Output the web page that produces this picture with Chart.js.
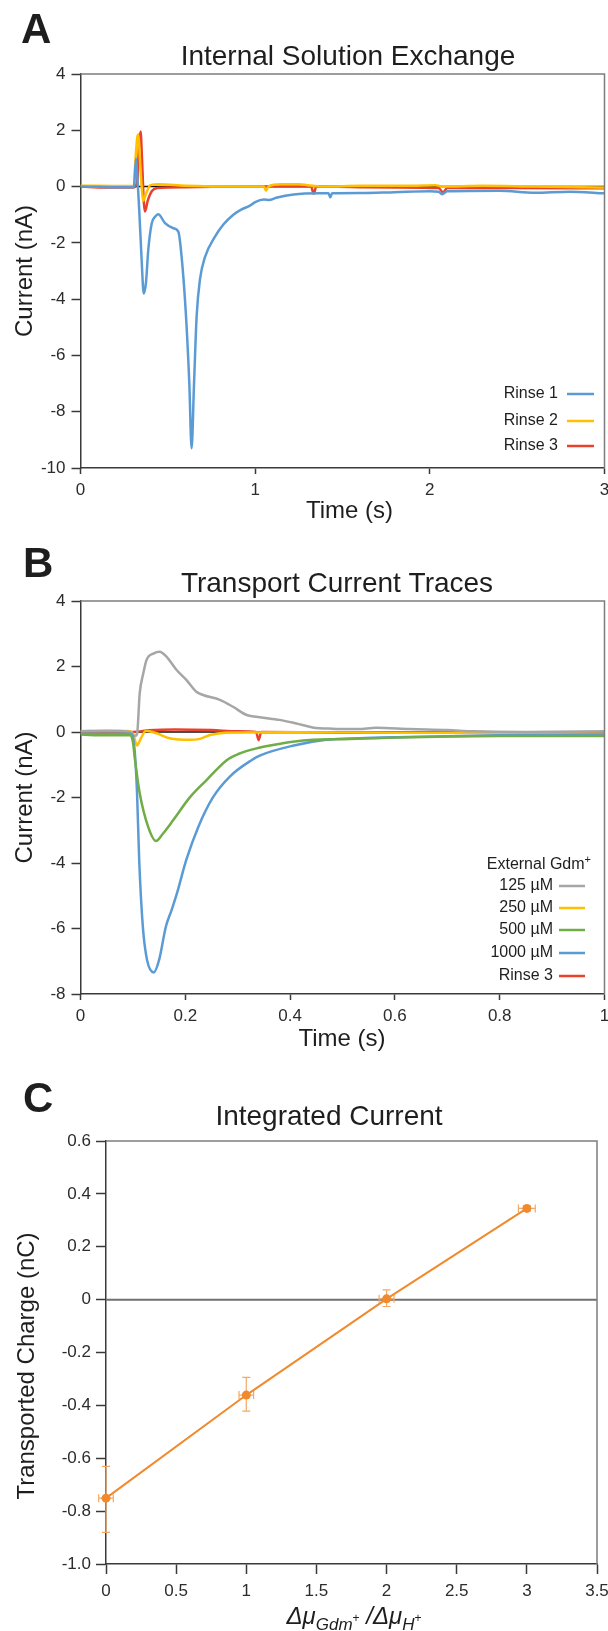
<!DOCTYPE html>
<html>
<head>
<meta charset="utf-8">
<script src="https://cdn.jsdelivr.net/npm/chart.js@4.4.1/dist/chart.umd.min.js"></script>
<style>
  html, body { margin: 0; padding: 0; background: #fff; }
  #wrap { position: relative; width: 608px; height: 1631px; overflow: hidden; }
  canvas { position: absolute; left: 0; }
</style>
</head>
<body>
<div id="wrap">
  <canvas id="chA" width="608" height="530" style="top:0px"></canvas>
  <canvas id="chB" width="608" height="540" style="top:530px"></canvas>
  <canvas id="chC" width="608" height="561" style="top:1070px"></canvas>
</div>
<script>
// ---- panel A: internal solution exchange (time in s, current in nA)
const aRinse1T = [0, 0.1, 0.2, 0.3, 0.306, 0.318, 0.326, 0.336, 0.35, 0.362, 0.375, 0.388, 0.408, 0.427, 0.445, 0.484, 0.532, 0.56, 0.579, 0.604, 0.623, 0.636, 0.65, 0.665, 0.684, 0.713, 0.77, 0.818, 0.875, 0.92, 0.97, 1.0, 1.05, 1.08, 1.12, 1.22, 1.37, 1.42, 1.43, 1.44, 1.6, 1.8, 2.0, 2.05, 2.07, 2.1, 2.4, 2.6, 2.8, 3.0];
const aRinse1I = [0, -0.01, -0.02, -0.02, 0.0, 1.0, 0.3, -0.8, -2.6, -3.8, -3.4, -2.25, -1.3, -1.07, -0.98, -1.3, -1.48, -1.6, -2.5, -4.6, -7.0, -9.3, -7.0, -4.6, -3.3, -2.5, -1.78, -1.35, -1.0, -0.82, -0.68, -0.55, -0.46, -0.48, -0.4, -0.28, -0.24, -0.24, -0.38, -0.24, -0.23, -0.2, -0.17, -0.18, -0.27, -0.17, -0.15, -0.22, -0.18, -0.24];
const aRinse2T = [0, 0.2, 0.305, 0.315, 0.325, 0.332, 0.34, 0.35, 0.36, 0.375, 0.4, 0.45, 0.6, 0.9, 1.05, 1.062, 1.075, 1.15, 1.25, 1.3, 1.4, 1.6, 1.9, 2.03, 2.08, 2.3, 2.6, 3.0];
const aRinse2I = [0.03, 0.02, 0.02, 1.0, 1.75, 1.85, 1.0, 0.0, -0.5, -0.25, 0.05, 0.08, 0.03, 0.0, 0.0, -0.15, 0.0, 0.08, 0.08, 0.05, 0.0, 0.03, 0.03, 0.05, 0.0, 0.03, 0.0, -0.03];
const aRinse3T = [0, 0.15, 0.3, 0.325, 0.335, 0.344, 0.352, 0.362, 0.369, 0.385, 0.41, 0.44, 0.6, 1.0, 1.32, 1.335, 1.35, 1.6, 2.05, 2.075, 2.1, 2.5, 3.0];
const aRinse3I = [0, -0.03, -0.03, 0.2, 1.5, 1.96, 1.0, -0.5, -0.89, -0.5, -0.15, -0.05, -0.02, 0, 0, -0.25, 0, -0.02, -0.05, -0.2, -0.05, -0.05, -0.06];
const aBaseT = [0, 3];
const aBaseI = [0, 0];

// ---- panel B: transport current traces
const b125T = [0, 0.05, 0.095, 0.104, 0.108, 0.113, 0.12, 0.126, 0.14, 0.151, 0.164, 0.183, 0.202, 0.221, 0.234, 0.266, 0.291, 0.317, 0.342, 0.38, 0.412, 0.443, 0.48, 0.53, 0.564, 0.628, 0.7, 0.75, 0.85, 1.0];
const b125I = [0.02, 0.04, 0.0, -0.12, -0.05, 1.18, 1.8, 2.2, 2.4, 2.45, 2.3, 1.9, 1.59, 1.23, 1.13, 0.98, 0.77, 0.52, 0.45, 0.37, 0.26, 0.14, 0.1, 0.09, 0.13, 0.09, 0.06, 0.02, 0.0, 0.02];
const b250T = [0, 0.09, 0.1, 0.108, 0.115, 0.125, 0.145, 0.17, 0.209, 0.228, 0.247, 0.278, 0.4, 0.6, 0.8, 1.0];
const b250I = [0.03, 0.03, -0.05, -0.41, -0.2, 0.04, -0.04, -0.19, -0.24, -0.21, -0.09, -0.02, -0.01, -0.02, -0.03, -0.05];
const b500T = [0, 0.05, 0.095, 0.1, 0.104, 0.113, 0.129, 0.144, 0.158, 0.177, 0.209, 0.241, 0.279, 0.3, 0.336, 0.367, 0.405, 0.444, 0.5, 0.564, 0.628, 0.8, 1.0];
const b500I = [-0.08, -0.1, -0.1, -0.3, -0.85, -1.87, -2.89, -3.33, -3.09, -2.69, -1.99, -1.46, -0.86, -0.68, -0.5, -0.4, -0.3, -0.24, -0.22, -0.19, -0.16, -0.12, -0.12];
const b1000T = [0, 0.095, 0.1, 0.104, 0.108, 0.112, 0.119, 0.127, 0.14, 0.15, 0.163, 0.174, 0.184, 0.202, 0.225, 0.253, 0.285, 0.327, 0.342, 0.405, 0.469, 0.532, 0.6, 0.8, 1.0];
const b1000I = [-0.05, -0.05, -0.15, -0.7, -1.9, -3.9, -5.95, -6.96, -7.34, -6.96, -5.94, -5.43, -4.93, -3.9, -2.89, -1.99, -1.36, -0.855, -0.72, -0.42, -0.24, -0.19, -0.16, -0.1, -0.08];
const bRinse3T = [0, 0.1, 0.13, 0.18, 0.25, 0.3, 0.335, 0.34, 0.345, 0.5, 0.7, 1.0];
const bRinse3I = [-0.02, 0.0, 0.05, 0.08, 0.06, 0.02, 0.0, -0.25, 0.0, -0.02, -0.02, -0.05];
const bBaseT = [0, 1];
const bBaseI = [0, 0];

// ---- panel C: integrated current
const cRatio = [0, 1, 2, 3];
const cRatioErr = [0.052, 0.052, 0.053, 0.06];
const cCharge = [-0.751, -0.361, 0.003, 0.345];
const cChargeErrUp = [0.12, 0.067, 0.034, 0.01];
const cChargeErrDn = [0.129, 0.061, 0.029, 0.01];

const FONT = "'Liberation Sans', Arial, Helvetica, sans-serif";
const INK = '#1e1e1e';
const AXIS = '#3a3a3a';
const FRAME = '#7d7d7d';
const BLUE = '#5b9bd5', GOLD = '#ffc000', RED = '#e8412c', GREY = '#a6a6a6', GREEN = '#70ad47';
const ORANGE = '#f08a2c', ORANGE_ERR = '#f4a865';

function trace(label, xs, ys, color, rank, width){
  return {
    label, legendRank: rank,
    data: xs.map((x, i) => ({ x, y: ys[i] })),
    borderColor: color, backgroundColor: color,
    borderWidth: width || 2.5, pointRadius: 0,
    cubicInterpolationMode: 'monotone', fill: false
  };
}

function axes(o){
  const tf = { family: FONT, size: 17 };
  return {
    x: {
      type: 'linear', min: o.xMin, max: o.xMax,
      ticks: { stepSize: o.xStep, color: '#2c2c2c', font: tf, padding: o.xPad, maxRotation: 0, autoSkip: false, callback: o.xFmt },
      grid: { drawOnChartArea: false, tickLength: o.xTick, tickColor: AXIS, tickWidth: 1.5 },
      border: { color: AXIS, width: 1.5 },
      afterFit: s => { s.height = 40; s.paddingLeft = 0; s.paddingRight = 0; }
    },
    y: {
      type: 'linear', min: o.yMin, max: o.yMax,
      ticks: { stepSize: o.yStep, color: '#2c2c2c', font: tf, padding: o.yPad, autoSkip: false, callback: o.yFmt },
      grid: { drawOnChartArea: false, tickLength: o.yTick, tickColor: AXIS, tickWidth: 1.5 },
      border: { color: AXIS, width: 1.5 },
      afterFit: s => { s.width = o.yWidth; s.paddingTop = 0; s.paddingBottom = 0; }
    }
  };
}

const plain = v => String(Math.round(v * 10) / 10);

// letters, titles, frame, legend
const decor = {
  id: 'decor',
  beforeDatasetsDraw(chart, args, o){
    if (!o.zeroLine) return;
    const { ctx, chartArea: a } = chart;
    const y0 = chart.scales.y.getPixelForValue(0);
    ctx.save();
    ctx.strokeStyle = '#707070'; ctx.lineWidth = 2;
    ctx.beginPath(); ctx.moveTo(a.left, y0); ctx.lineTo(a.right, y0); ctx.stroke();
    ctx.restore();
  },
  afterDraw(chart, args, o){
    const { ctx, chartArea: a } = chart;
    ctx.save();
    ctx.strokeStyle = FRAME; ctx.lineWidth = 1.5;
    ctx.beginPath(); ctx.moveTo(a.left, a.top); ctx.lineTo(a.right, a.top); ctx.lineTo(a.right, a.bottom); ctx.stroke();

    ctx.fillStyle = INK; ctx.textBaseline = 'alphabetic';
    ctx.font = 'bold 42px ' + FONT; ctx.textAlign = 'left';
    ctx.fillText(o.letter, o.letterX, o.letterY);

    ctx.font = '28px ' + FONT; ctx.textAlign = 'center';
    ctx.fillText(o.title, o.titleX, o.titleY);

    ctx.save();
    ctx.translate(o.yTitleX, o.yTitleY); ctx.rotate(-Math.PI / 2);
    ctx.font = '24px ' + FONT; ctx.fillText(o.yTitle, 0, 0);
    ctx.restore();

    if (o.xTitle) { ctx.font = '24px ' + FONT; ctx.fillText(o.xTitle, o.xTitleX, o.xTitleY); }
    if (o.xTitleFn) o.xTitleFn(ctx);

    const L = o.legend;
    if (L) {
      ctx.textBaseline = 'middle';
      if (L.title) {
        ctx.font = '11px ' + FONT;
        const w = ctx.measureText('+').width;
        ctx.textAlign = 'left'; ctx.fillText('+', L.titleRight - w, L.titleY - 5);
        ctx.font = '16px ' + FONT; ctx.textAlign = 'right';
        ctx.fillText(L.title, L.titleRight - w, L.titleY);
      }
      ctx.font = '16px ' + FONT; ctx.textAlign = 'right';
      chart.data.datasets.filter(d => d.legendRank != null)
        .sort((p, q) => p.legendRank - q.legendRank)
        .forEach((d, i) => {
          const y = L.rows[i];
          ctx.fillStyle = INK; ctx.fillText(d.label, L.textRight, y);
          ctx.strokeStyle = d.borderColor; ctx.lineWidth = 2.5;
          ctx.beginPath(); ctx.moveTo(L.x0, y); ctx.lineTo(L.x1, y); ctx.stroke();
        });
    }
    ctx.restore();
  }
};

const errBars = {
  id: 'errBars',
  beforeDatasetsDraw(chart){
    const { ctx } = chart, x = chart.scales.x, y = chart.scales.y;
    ctx.save();
    ctx.strokeStyle = ORANGE_ERR; ctx.lineWidth = 1.2;
    const cap = 4;
    cRatio.forEach((xv, i) => {
      const px = x.getPixelForValue(xv), py = y.getPixelForValue(cCharge[i]);
      const yt = y.getPixelForValue(cCharge[i] + cChargeErrUp[i]);
      const yb = y.getPixelForValue(cCharge[i] - cChargeErrDn[i]);
      const xl = x.getPixelForValue(xv - cRatioErr[i]), xr = x.getPixelForValue(xv + cRatioErr[i]);
      ctx.beginPath();
      ctx.moveTo(px, yt); ctx.lineTo(px, yb);
      ctx.moveTo(px - cap, yt); ctx.lineTo(px + cap, yt);
      ctx.moveTo(px - cap, yb); ctx.lineTo(px + cap, yb);
      ctx.moveTo(xl, py); ctx.lineTo(xr, py);
      ctx.moveTo(xl, py - cap); ctx.lineTo(xl, py + cap);
      ctx.moveTo(xr, py - cap); ctx.lineTo(xr, py + cap);
      ctx.stroke();
    });
    ctx.restore();
  }
};

// Δμ_Gdm+ / Δμ_H+ with sub/superscripts
function ratioTitle(ctx){
  const parts = [
    ['Δμ', 'italic 24px', 0], ['Gdm', 'italic 17px', 6], ['+', '12px', -2],
    [' /', 'italic 24px', 0], ['Δμ', 'italic 24px', 0], ['H', 'italic 17px', 6], ['+', '12px', -2]
  ];
  let total = 0;
  parts.forEach(p => { ctx.font = p[1] + ' ' + FONT; total += ctx.measureText(p[0]).width; });
  let x = 354 - total / 2;
  const base = 554;
  ctx.textAlign = 'left'; ctx.fillStyle = INK;
  parts.forEach(p => {
    ctx.font = p[1] + ' ' + FONT;
    ctx.fillText(p[0], x, base + p[2]);
    x += ctx.measureText(p[0]).width;
  });
}

const common = { responsive: false, animation: false, events: [], devicePixelRatio: 1 };

new Chart(document.getElementById('chA'), {
  type: 'line',
  data: { datasets: [
    trace('Rinse 1', aRinse1T, aRinse1I, BLUE, 1),
    trace('Rinse 2', aRinse2T, aRinse2I, GOLD, 2),
    trace('Rinse 3', aRinse3T, aRinse3I, RED, 3),
    trace('baseline', aBaseT, aBaseI, '#111', null, 1.5)
  ]},
  options: Object.assign({}, common, {
    layout: { padding: { left: 0, top: 74, right: 3.5, bottom: 22 } },
    scales: axes({ xMin: 0, xMax: 3, xStep: 1, xPad: 6, xTick: 6, yMin: -10, yMax: 4, yStep: 2, yPad: 6, yTick: 9, yWidth: 80.5 }),
    plugins: {
      legend: { display: false }, tooltip: { enabled: false },
      decor: {
        letter: 'A', letterX: 21, letterY: 43,
        title: 'Internal Solution Exchange', titleX: 348, titleY: 65,
        yTitle: 'Current (nA)', yTitleX: 32, yTitleY: 271,
        xTitle: 'Time (s)', xTitleX: 349.5, xTitleY: 518,
        legend: { textRight: 558, x0: 567, x1: 594, rows: [394, 421, 446] }
      }
    }
  }),
  plugins: [decor]
});

new Chart(document.getElementById('chB'), {
  type: 'line',
  data: { datasets: [
    trace('500 µM', b500T, b500I, GREEN, 3),
    trace('1000 µM', b1000T, b1000I, BLUE, 4),
    trace('125 µM', b125T, b125I, GREY, 1),
    trace('250 µM', b250T, b250I, GOLD, 2),
    trace('Rinse 3', bRinse3T, bRinse3I, RED, 5),
    trace('baseline', bBaseT, bBaseI, '#111', null, 1.5)
  ]},
  options: Object.assign({}, common, {
    layout: { padding: { left: 0, top: 71, right: 3.5, bottom: 36 } },
    scales: axes({ xMin: 0, xMax: 1, xStep: 0.2, xPad: 6, xTick: 6, xFmt: plain, yMin: -8, yMax: 4, yStep: 2, yPad: 6, yTick: 9, yWidth: 80.5 }),
    plugins: {
      legend: { display: false }, tooltip: { enabled: false },
      decor: {
        letter: 'B', letterX: 23, letterY: 47,
        title: 'Transport Current Traces', titleX: 337, titleY: 62,
        yTitle: 'Current (nA)', yTitleX: 32, yTitleY: 267.5,
        xTitle: 'Time (s)', xTitleX: 342, xTitleY: 516,
        legend: { title: 'External Gdm', titleRight: 591, titleY: 335, textRight: 553, x0: 559, x1: 585, rows: [356, 378, 400, 423, 446] }
      }
    }
  }),
  plugins: [decor]
});

new Chart(document.getElementById('chC'), {
  type: 'line',
  data: { datasets: [{
    label: 'Transported charge',
    data: cRatio.map((x, i) => ({ x, y: cCharge[i] })),
    borderColor: ORANGE, backgroundColor: ORANGE, borderWidth: 2,
    pointRadius: 4.5, pointBorderWidth: 0, pointBackgroundColor: ORANGE,
    tension: 0, clip: false, fill: false
  }]},
  options: Object.assign({}, common, {
    layout: { padding: { left: 0, top: 71, right: 11, bottom: 27 } },
    scales: axes({ xMin: 0, xMax: 3.5, xStep: 0.5, xPad: 7, xTick: 10, xFmt: plain,
      yMin: -1, yMax: 0.6, yStep: 0.2, yPad: 5, yTick: 10, yWidth: 106,
      yFmt: v => (Math.abs(v + 1) < 1e-9 ? '-1.0' : plain(v)) }),
    plugins: {
      legend: { display: false }, tooltip: { enabled: false },
      decor: {
        zeroLine: true,
        letter: 'C', letterX: 23, letterY: 42,
        title: 'Integrated Current', titleX: 329, titleY: 55,
        yTitle: 'Transported Charge (nC)', yTitleX: 34, yTitleY: 296,
        xTitleFn: ratioTitle
      }
    }
  }),
  plugins: [decor, errBars]
});
</script>
</body>
</html>
